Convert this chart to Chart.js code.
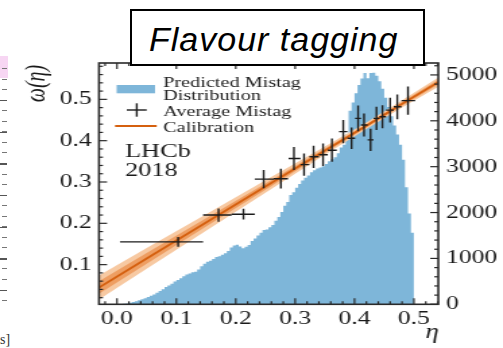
<!DOCTYPE html>
<html>
<head>
<meta charset="utf-8">
<script src="https://cdn.jsdelivr.net/npm/chart.js@4.4.1/dist/chart.umd.min.js"></script>
<style>
  html, body { margin: 0; padding: 0; background: #fff; width: 503px; height: 348px; overflow: hidden; }
  /* the plot is drawn narrow and widened, like the slide it sits on */
  #wrap { position: absolute; left: 0; top: 0; width: 373px; height: 348px; transform: scaleX(1.3485); transform-origin: 0 0; }
  #title {
    position: absolute; left: 130px; top: 9px; width: 295px; height: 57px; box-sizing: border-box;
    border: 2px solid #000; background: #fff; padding: 9px 0 0 17px;
    font-family: "Liberation Sans", Arial, sans-serif; font-style: italic; font-size: 34px; line-height: 39px;
    letter-spacing: 1px; color: #000; white-space: nowrap;
  }
  #pink { position: absolute; left: 0; top: 56px; width: 8px; height: 22px; background: #f7d6f3; }
  #minor { position: absolute; left: 2px; top: 68px; width: 5px; height: 236px;
    background: repeating-linear-gradient(to bottom, #777 0 1px, transparent 1px 10.55px); }
  #major { position: absolute; left: 0; top: 100px; width: 7px; height: 200px;
    background: repeating-linear-gradient(to bottom, #555 0 1.5px, transparent 1.5px 31.65px); }
  #unit { position: absolute; left: 0; top: 332px; font-family: "Liberation Serif", serif; font-size: 14px; color: #333; }
</style>
</head>
<body>
<div id="pink"></div>
<div id="minor"></div>
<div id="major"></div>
<div id="unit">s]</div>
<div id="wrap"><canvas id="c" width="373" height="348"></canvas></div>
<div id="title">Flavour tagging</div>
<script>
// predicted mistag histogram, bins of 0.005 from 0
const histStart = 0.0;
const histBin = 0.005;
const histCounts = [
  0, 5, 12, 20, 32, 48, 68, 88, 108, 130,
  158, 185, 215, 252, 290, 330, 378, 410, 450, 498,
  530, 570, 612, 648, 672, 700, 712, 760, 830, 882,
  930, 950, 985, 1030, 1050, 1082, 1112, 1160, 1240, 1282,
  1300, 1262, 1220, 1252, 1290, 1380, 1432, 1500, 1560, 1618,
  1630, 1682, 1730, 1820, 1905, 2010, 2150, 2232, 2380, 2442,
  2540, 2622, 2700, 2760, 2810, 2880, 2920, 2960, 2982, 3010,
  3060, 3120, 3160, 3205, 3290, 3420, 3480, 3700, 4220, 4400,
  4600, 4780, 4920, 5040, 4930, 5040, 5050, 4980, 4860, 4700,
  4500, 4300, 4100, 3900, 3700, 3480, 3150, 2550, 1980, 1560
];

// average measured mistag per eta bin
const avgEta    = [0.103, 0.171, 0.213, 0.247, 0.276, 0.298, 0.315, 0.331, 0.347, 0.362,
                   0.381, 0.395, 0.406, 0.416, 0.427, 0.437, 0.447, 0.460, 0.472, 0.490];
const avgEtaLo  = [0.005, 0.145, 0.193, 0.232, 0.264, 0.289, 0.309, 0.324, 0.340, 0.355,
                   0.374, 0.388, 0.401, 0.411, 0.422, 0.432, 0.442, 0.453, 0.466, 0.479];
const avgEtaHi  = [0.145, 0.193, 0.232, 0.264, 0.288, 0.309, 0.324, 0.340, 0.355, 0.370,
                   0.388, 0.401, 0.411, 0.422, 0.432, 0.442, 0.453, 0.466, 0.479, 0.502];
const avgOmega  = [0.155, 0.220, 0.222, 0.307, 0.308, 0.357, 0.342, 0.361, 0.366, 0.377,
                   0.422, 0.406, 0.454, 0.438, 0.402, 0.454, 0.458, 0.474, 0.482, 0.497];
const avgErr    = [0.012, 0.016, 0.013, 0.022, 0.024, 0.028, 0.027, 0.027, 0.027, 0.028,
                   0.028, 0.026, 0.031, 0.028, 0.027, 0.028, 0.028, 0.030, 0.030, 0.034];

// calibration fit with its inner and outer uncertainty bands
const calibEta   = [-0.0303, 0.05, 0.15, 0.25, 0.35, 0.42, 0.48, 0.541];
const calibOmega = [0.0446, 0.115, 0.202, 0.289, 0.376, 0.436, 0.489, 0.5417];
const bandOuter  = [0.029, 0.025, 0.020, 0.015, 0.010, 0.008, 0.009, 0.011];
const bandInner  = [0.015, 0.013, 0.010, 0.0075, 0.005, 0.004, 0.0045, 0.0055];

const xTicks  = [0, 0.1, 0.2, 0.3, 0.4, 0.5];
const yTicks  = [0.1, 0.2, 0.3, 0.4, 0.5];
const y2Ticks = [0, 1000, 2000, 3000, 4000, 5000];

const blue = 'rgb(126,182,217)';
const orange = '#d5600f';
const serif = '"Liberation Serif", "Times New Roman", serif';

const histPoints = histCounts.map((c, i) => ({ x: histStart + i * histBin, y: c }));
histPoints.push({ x: histStart + histCounts.length * histBin, y: 0 });

const calibLine = calibEta.map((e, i) => ({ x: e, y: calibOmega[i] }));
const band = (w, sign) => calibEta.map((e, i) => ({ x: e, y: calibOmega[i] + sign * w[i] }));

const plain = { pointRadius: 0, borderWidth: 0, borderColor: 'rgba(0,0,0,0)', tension: 0 };

const data = {
  datasets: [
    { label: 'Calibration', data: calibLine, yAxisID: 'y', order: 0, pointRadius: 0, borderColor: orange, borderWidth: 1.8, fill: false },
    { ...plain, data: band(bandInner, 1), yAxisID: 'y', order: 1, fill: false },
    { ...plain, data: band(bandInner, -1), yAxisID: 'y', order: 1, fill: '-1', backgroundColor: '#ee9e62' },
    { ...plain, data: band(bandOuter, 1), yAxisID: 'y', order: 2, fill: false },
    { ...plain, data: band(bandOuter, -1), yAxisID: 'y', order: 2, fill: '-1', backgroundColor: '#f7c9a2' },
    { ...plain, label: 'Predicted Mistag Distribution', data: histPoints, yAxisID: 'y2', order: 5, stepped: true, fill: 'origin', backgroundColor: blue },
    { label: 'Average Mistag', data: avgEta.map((e, i) => ({ x: e, y: avgOmega[i] })), yAxisID: 'y', order: -1, showLine: false, pointRadius: 0 }
  ]
};

// inward ticks, frame, error bars, legend and labels
const decor = {
  id: 'decor',
  afterDatasetsDraw(chart) {
    const { ctx, chartArea: a, scales } = chart;
    ctx.save();
    ctx.beginPath();
    ctx.rect(a.left, a.top, a.right - a.left, a.bottom - a.top);
    ctx.clip();
    ctx.strokeStyle = '#1c1c1c';
    ctx.lineWidth = 1.4;
    avgEta.forEach((e, i) => {
      const px = scales.x.getPixelForValue(e);
      const py = scales.y.getPixelForValue(avgOmega[i]);
      ctx.beginPath();
      ctx.moveTo(scales.x.getPixelForValue(avgEtaLo[i]), py);
      ctx.lineTo(scales.x.getPixelForValue(avgEtaHi[i]), py);
      ctx.moveTo(px, scales.y.getPixelForValue(avgOmega[i] - avgErr[i]));
      ctx.lineTo(px, scales.y.getPixelForValue(avgOmega[i] + avgErr[i]));
      ctx.stroke();
    });
    ctx.restore();
  },
  afterDraw(chart) {
    const { ctx, chartArea: a, scales } = chart;
    ctx.save();
    ctx.strokeStyle = '#2a2a2a';
    ctx.lineWidth = 1.2;
    const tick = (x0, y0, x1, y1) => { ctx.beginPath(); ctx.moveTo(x0, y0); ctx.lineTo(x1, y1); ctx.stroke(); };

    for (let k = -1; k <= 27; k++) {
      const v = k * 0.02;
      if (v < scales.x.min || v > scales.x.max) continue;
      const px = scales.x.getPixelForValue(v);
      const len = k % 5 === 0 ? 6 : 3;
      tick(px, a.bottom, px, a.bottom - len);
      tick(px, a.top, px, a.top + len);
    }
    for (let k = 0; k <= 29; k++) {
      const v = k * 0.02;
      if (v < scales.y.min || v > scales.y.max) continue;
      const py = scales.y.getPixelForValue(v);
      tick(a.left, py, a.left + (k % 5 === 0 ? 6 : 3), py);
    }
    for (let k = 0; k <= 26; k++) {
      const v = k * 200;
      if (v > scales.y2.max) continue;
      const py = scales.y2.getPixelForValue(v);
      tick(a.right, py, a.right - (k % 5 === 0 ? 6 : 3), py);
    }

    ctx.lineWidth = 1.6;
    ctx.strokeRect(a.left, a.top, a.right - a.left, a.bottom - a.top);

    // legend
    ctx.fillStyle = blue;
    ctx.fillRect(86.5, 85, 28.5, 8.3);
    ctx.strokeStyle = '#1c1c1c';
    ctx.lineWidth = 1.4;
    tick(94, 110, 108.8, 110);
    tick(101.4, 103.3, 101.4, 116.7);
    ctx.strokeStyle = orange;
    ctx.lineWidth = 2;
    tick(85.3, 126, 116.2, 126);

    ctx.fillStyle = '#222';
    ctx.font = '15px ' + serif;
    ctx.textAlign = 'left';
    ctx.textBaseline = 'alphabetic';
    ctx.fillText('Predicted Mistag', 121, 86.5);
    ctx.fillText('Distribution', 121, 100.3);
    ctx.fillText('Average Mistag', 121, 116);
    ctx.fillText('Calibration', 121, 131.7);

    ctx.fillStyle = '#1a1a1a';
    ctx.font = '19.5px ' + serif;
    ctx.fillText('LHCb', 92.7, 156.5);
    ctx.fillText('2018', 92.7, 176.3);

    // axis titles
    ctx.font = 'italic 20px ' + serif;
    ctx.textAlign = 'center';
    ctx.fillText('\u03b7', 320.4, 338);
    ctx.translate(27.4, 83.5);
    ctx.rotate(-Math.PI / 2);
    ctx.textBaseline = 'middle';
    ctx.fillText('\u03c9(\u03b7)', 0, 0);
    ctx.restore();
  }
};

const tickFont = { family: serif, size: 19 };
const fixTicks = vals => scale => { scale.ticks = vals.map(v => ({ value: v })); };

new Chart(document.getElementById('c'), {
  type: 'line',
  data: data,
  options: {
    responsive: false,
    animation: false,
    devicePixelRatio: 1,
    layout: { padding: { top: 63, left: 0, right: 0, bottom: 0 } },
    plugins: { legend: { display: false }, tooltip: { enabled: false } },
    scales: {
      x: {
        type: 'linear', min: -0.0303, max: 0.541,
        grid: { display: false, drawTicks: false }, border: { display: false },
        afterBuildTicks: fixTicks(xTicks),
        afterFit: s => { s.height = 43.7; },
        ticks: { font: tickFont, color: '#1a1a1a', padding: 3, autoSkip: false, maxRotation: 0, callback: v => v.toFixed(1) }
      },
      y: {
        type: 'linear', position: 'left', min: 0.004, max: 0.588,
        grid: { display: false, drawTicks: false }, border: { display: false },
        afterBuildTicks: fixTicks(yTicks),
        afterFit: s => { s.width = 73.4; },
        ticks: { font: tickFont, color: '#1a1a1a', padding: 5.4, callback: v => v.toFixed(1) }
      },
      y2: {
        type: 'linear', position: 'right', min: 0, max: 5260,
        grid: { display: false, drawTicks: false }, border: { display: false },
        afterBuildTicks: fixTicks(y2Ticks),
        afterFit: s => { s.width = 48; },
        ticks: { font: tickFont, color: '#1a1a1a', padding: 5.7, callback: v => String(v) }
      }
    }
  },
  plugins: [decor]
});
</script>
</body>
</html>
